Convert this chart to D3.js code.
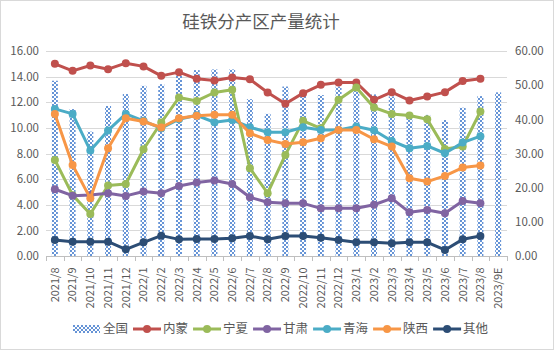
<!DOCTYPE html>
<html>
<head>
<meta charset="utf-8">
<script src="https://cdn.jsdelivr.net/npm/d3@7"></script>
<style>
  body { margin: 0; background: #fff; }
  svg text { font-family: "Noto Sans CJK SC", "Liberation Sans", sans-serif; }
</style>
</head>
<body>
<div id="chart"></div>
<script>
// categories
const months = ["2021/8","2021/9","2021/10","2021/11","2021/12","2022/1","2022/2","2022/3","2022/4","2022/5",
  "2022/6","2022/7","2022/8","2022/9","2022/10","2022/11","2022/12","2023/1","2023/2","2023/3",
  "2023/4","2023/5","2023/6","2023/7","2023/8","2023/9E"];

// 全国 (right axis)
const national = [51.3,43.0,36.4,43.9,47.4,49.8,50.3,54.4,54.4,54.6,54.6,45.9,41.6,49.6,47.0,47.1,49.6,50.0,47.3,46.7,41.4,41.3,39.8,43.4,46.8,47.9];
// regions (left axis)
const neimeng = [15.0,14.45,14.87,14.58,15.05,14.8,14.06,14.35,13.83,13.7,13.93,13.8,12.76,11.88,12.71,13.36,13.54,13.54,12.19,12.79,12.14,12.45,12.79,13.65,13.83];
const ningxia = [7.5,4.75,3.28,5.5,5.62,8.33,10.42,12.37,12.1,12.76,12.97,6.85,4.9,7.89,10.55,9.97,12.19,13.15,11.59,11.09,10.96,10.68,8.36,8.54,11.28];
const gansu = [5.21,4.71,4.77,4.9,4.69,5.03,4.9,5.47,5.73,5.89,5.62,4.58,4.19,4.11,4.11,3.72,3.72,3.72,4.0,4.5,3.41,3.59,3.33,4.3,4.11];
const qinghai = [11.48,11.09,8.23,9.8,11.09,10.55,9.97,10.68,10.98,10.44,10.62,10.05,9.66,9.66,10.05,9.84,9.84,10.1,9.82,8.98,8.41,8.59,8.02,8.85,9.35];
const shaanxi = [11.09,7.11,4.5,8.41,10.75,10.5,10.03,10.75,10.94,11.02,11.02,9.58,9.06,8.75,8.88,9.19,9.84,9.84,9.11,8.54,6.07,5.81,6.25,6.9,7.06];
const others = [1.25,1.12,1.12,1.12,0.52,1.07,1.59,1.3,1.33,1.33,1.38,1.56,1.3,1.56,1.56,1.43,1.25,1.07,1.07,0.99,1.07,1.07,0.47,1.3,1.56];

const leftTicks = [0,2,4,6,8,10,12,14,16];
const rightTicks = [0,10,20,30,40,50,60];

const series = [
  { name: "内蒙", values: neimeng, color: "#c0504d" },
  { name: "宁夏", values: ningxia, color: "#9bbb59" },
  { name: "甘肃", values: gansu, color: "#8064a2" },
  { name: "青海", values: qinghai, color: "#4bacc6" },
  { name: "陕西", values: shaanxi, color: "#f79646" },
  { name: "其他", values: others, color: "#2c4d75" }
];

const W = 554, H = 350;
const plot = { left: 46, right: 507, top: 51, bottom: 256 };

const svg = d3.select("#chart").append("svg")
  .attr("width", W).attr("height", H);

svg.append("rect")
  .attr("x", 0.5).attr("y", 0.5).attr("width", W - 1).attr("height", H - 1)
  .attr("fill", "#fff").attr("stroke", "#d9d9d9");

// checker pattern for 全国 bars
const pat = svg.append("defs").append("pattern")
  .attr("id", "hatch").attr("patternUnits", "userSpaceOnUse")
  .attr("width", 4).attr("height", 4);
pat.append("rect").attr("width", 4).attr("height", 4).attr("fill", "#fff");
pat.append("rect").attr("x", 0).attr("y", 0).attr("width", 2).attr("height", 2).attr("fill", "#6694d6");
pat.append("rect").attr("x", 2).attr("y", 2).attr("width", 2).attr("height", 2).attr("fill", "#6694d6");

// scales
const x = d3.scaleBand().domain(months).range([plot.left, plot.right]).padding(0);
const yL = d3.scaleLinear().domain([0, 16]).range([plot.bottom, plot.top]);
const yR = d3.scaleLinear().domain([0, 60]).range([plot.bottom, plot.top]);
const cx = d => x(d) + x.bandwidth() / 2;

// title
svg.append("text")
  .attr("x", 261).attr("y", 28)
  .attr("text-anchor", "middle")
  .attr("font-size", 17.5)
  .attr("fill", "#595959")
  .text("硅铁分产区产量统计");

// gridlines
svg.append("g").selectAll("line")
  .data(leftTicks.filter(t => t > 0))
  .join("line")
  .attr("x1", plot.left).attr("x2", plot.right)
  .attr("y1", d => Math.round(yL(d)) + 0.5).attr("y2", d => Math.round(yL(d)) + 0.5)
  .attr("stroke", "#d9d9d9").attr("stroke-width", 1);

// left axis
const axL = svg.append("g")
  .attr("transform", `translate(${plot.left},0)`)
  .call(d3.axisLeft(yL).tickValues(leftTicks).tickFormat(d3.format(".2f")).tickSize(0).tickPadding(7));
axL.select(".domain").remove();
axL.selectAll("text").attr("font-size", 11.5).attr("fill", "#595959");

// right axis
const axR = svg.append("g")
  .attr("transform", `translate(${plot.right},0)`)
  .call(d3.axisRight(yR).tickValues(rightTicks).tickFormat(d3.format(".2f")).tickSize(0).tickPadding(8));
axR.select(".domain").remove();
axR.selectAll("text").attr("font-size", 11.5).attr("fill", "#595959");

// bars 全国
svg.append("g").selectAll("rect")
  .data(national)
  .join("rect")
  .attr("x", (d, i) => cx(months[i]) - 3)
  .attr("y", d => yR(d))
  .attr("width", 6)
  .attr("height", d => plot.bottom - yR(d))
  .attr("fill", "url(#hatch)");

// bottom axis
const axB = svg.append("g")
  .attr("transform", `translate(0,${plot.bottom + 0.5})`)
  .call(d3.axisBottom(x).tickSize(0).tickPadding(0));
axB.select(".domain").attr("stroke", "#bfbfbf").attr("d", `M${plot.left},0H${plot.right}`);
axB.selectAll("text")
  .attr("font-size", 11)
  .attr("fill", "#595959")
  .attr("text-anchor", "end")
  .attr("transform", "rotate(-90)")
  .attr("x", -11)
  .attr("y", 0)
  .attr("dy", "0.35em");
// category separator ticks
svg.append("g").selectAll("line")
  .data(d3.range(months.length + 1))
  .join("line")
  .attr("x1", i => Math.round(plot.left + i * x.bandwidth()) + 0.5)
  .attr("x2", i => Math.round(plot.left + i * x.bandwidth()) + 0.5)
  .attr("y1", plot.bottom).attr("y2", plot.bottom + 5)
  .attr("stroke", "#bfbfbf");

// lines
const line = d3.line().x((d, i) => cx(months[i])).y(d => yL(d));
series.forEach(s => {
  const g = svg.append("g");
  g.append("path")
    .datum(s.values)
    .attr("d", line)
    .attr("fill", "none")
    .attr("stroke", s.color)
    .attr("stroke-width", 3)
    .attr("stroke-linejoin", "round");
  g.selectAll("circle")
    .data(s.values)
    .join("circle")
    .attr("cx", (d, i) => cx(months[i]))
    .attr("cy", d => yL(d))
    .attr("r", 4)
    .attr("fill", s.color);
});

// legend
const legend = svg.append("g").attr("transform", "translate(73,329)");
let lx = 0;
const legItems = [{ name: "全国", bar: true }].concat(series);
legItems.forEach(it => {
  const g = legend.append("g").attr("transform", `translate(${lx},0)`);
  if (it.bar) {
    g.append("rect").attr("x", 0).attr("y", -4).attr("width", 27).attr("height", 8).attr("fill", "url(#hatch)");
  } else {
    g.append("line").attr("x1", 0).attr("x2", 28).attr("y1", 0).attr("y2", 0)
      .attr("stroke", it.color).attr("stroke-width", 3);
    g.append("circle").attr("cx", 14).attr("cy", 0).attr("r", 4).attr("fill", it.color);
  }
  const t = g.append("text")
    .attr("x", 30).attr("y", 0).attr("dy", "0.35em")
    .attr("font-size", 12.5).attr("fill", "#595959")
    .text(it.name);
  lx += 30 + t.node().getComputedTextLength() + 5;
});
</script>
</body>
</html>
